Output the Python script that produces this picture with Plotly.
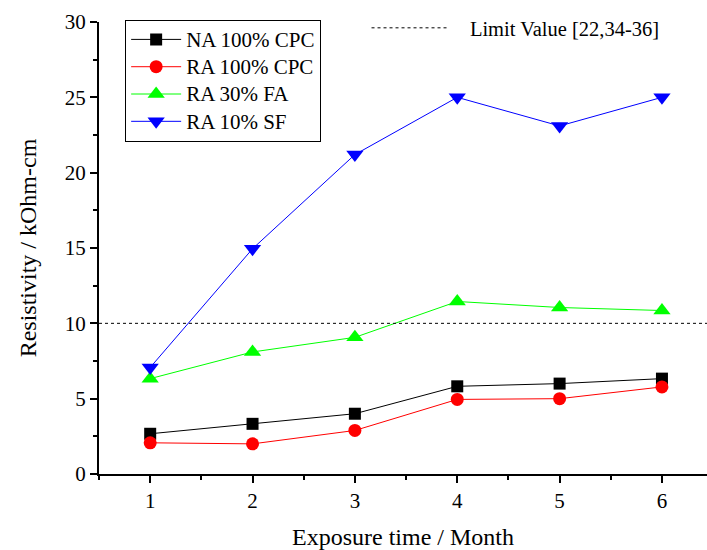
import plotly.graph_objects as go

months = [1, 2, 3, 4, 5, 6]
na_100_cpc = [2.67, 3.33, 4.0, 5.82, 6.0, 6.33]
ra_100_cpc = [2.07, 2.0, 2.89, 4.95, 5.0, 5.78]
ra_30_fa = [6.33, 8.1, 9.07, 11.45, 11.05, 10.85]
ra_10_sf = [7.07, 14.95, 21.2, 25.0, 23.1, 25.0]
limit_value = 10
x_range = [0.5, 6.44]

FONT = "Liberation Serif, Times New Roman, serif"

fig = go.Figure()

series = [
    ("NA 100% CPC", na_100_cpc, "black", "square", 12),
    ("RA 100% CPC", ra_100_cpc, "red", "circle", 13),
    ("RA 30% FA", ra_30_fa, "#00ff00", "triangle-up", 15),
    ("RA 10% SF", ra_10_sf, "blue", "triangle-down", 15),
]
for name, ys, col, sym, sz in series:
    fig.add_trace(go.Scatter(
        x=months, y=ys, name='<span style="font-size:21px">' + name + '</span>',
        mode="lines+markers",
        line=dict(color=col, width=1),
        marker=dict(symbol=sym, size=sz, color=col, line=dict(width=0)),
        legend="legend",
    ))

fig.add_trace(go.Scatter(
    x=x_range, y=[limit_value, limit_value],
    name="\u00a0\u00a0\u00a0Limit Value [22,34-36]",
    mode="lines", line=dict(color="black", width=1, dash="3px,3px"),
    legend="legend2",
))

axis_common = dict(
    showline=True, linecolor="black", linewidth=2, mirror=False,
    ticks="outside", ticklen=7, tickwidth=2, tickcolor="black",
    showgrid=False, zeroline=False,
    tickfont=dict(family=FONT, size=21, color="black"),
)

fig.update_xaxes(
    range=x_range, tickmode="linear", tick0=1, dtick=1,
    minor=dict(ticks="outside", ticklen=4, tickwidth=1.5, tickcolor="black", dtick=0.5, tick0=0.5),
    title=dict(text="Exposure time / Month", font=dict(family=FONT, size=24, color="black"), standoff=19),
    **axis_common,
)
fig.update_yaxes(
    range=[0, 30], tickmode="linear", tick0=0, dtick=5,
    minor=dict(ticks="outside", ticklen=4, tickwidth=1.5, tickcolor="black", dtick=2.5, tick0=0),
    title=dict(text="Resistivity / kOhm-cm", font=dict(family=FONT, size=24, color="black"), standoff=21),
    **axis_common,
)

fig.update_layout(
    width=707, height=550,
    margin=dict(l=99, r=0, t=22, b=76),
    plot_bgcolor="white", paper_bgcolor="white",
    font=dict(family=FONT, color="black"),
    legend=dict(
        x=0.043, y=1.005, xanchor="left", yanchor="top",
        bordercolor="black", borderwidth=1, bgcolor="white",
        font=dict(family=FONT, size=18.7, color="black"),
        tracegroupgap=0, itemwidth=50,
    ),
    legend2=dict(
        x=0.44, y=1.031, xanchor="left", yanchor="top",
        borderwidth=0, bgcolor="rgba(0,0,0,0)",
        font=dict(family=FONT, size=20.5, color="black"),
        itemwidth=78,
    ),
)

fig.write_html("out.html")
